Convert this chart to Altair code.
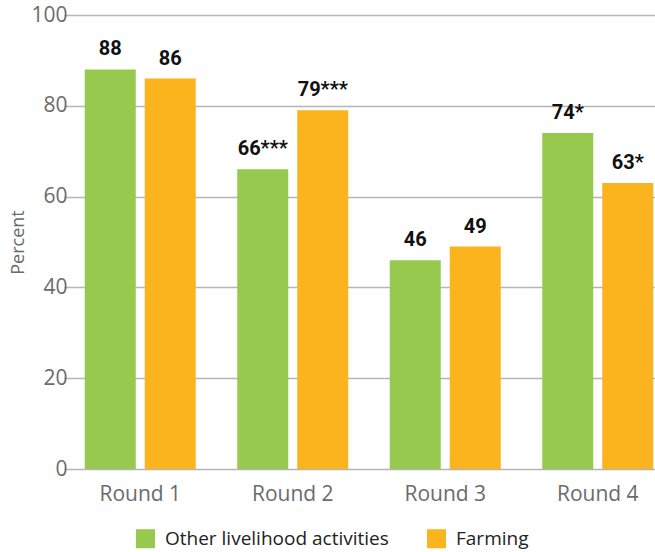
import altair as alt
import pandas as pd

rounds = ["Round 1", "Round 2", "Round 3", "Round 4"]
series = ["Other livelihood activities", "Farming"]
other_vals = [88, 66, 46, 74]
farming_vals = [86, 79, 49, 63]
other_labels = ["88", "66***", "46", "74*"]
farming_labels = ["86", "79***", "49", "63*"]
colors = ["#97C94E", "#FBB41E"]

rows = []
for r, v, l in zip(rounds, other_vals, other_labels):
    rows.append({"round": r, "series": series[0], "value": v, "label": l})
for r, v, l in zip(rounds, farming_vals, farming_labels):
    rows.append({"round": r, "series": series[1], "value": v, "label": l})
df = pd.DataFrame(rows)

FONT = "Open Sans"

x = alt.X("round:N", sort=rounds,
          scale=alt.Scale(range=[-10, 600], paddingInner=0, paddingOuter=0),
          axis=alt.Axis(title=None, labelAngle=0, labelFontSize=21, labelColor="#6b6b6b",
                        labelFont=FONT, domain=False, ticks=False, labelPadding=14, grid=False))
xo = alt.XOffset("series:N", sort=series,
                 scale=alt.Scale(paddingInner=0.15, paddingOuter=0.346))
y = alt.Y("value:Q", scale=alt.Scale(domain=[0, 100], nice=False),
          axis=alt.Axis(title="Percent", values=[0, 20, 40, 60, 80, 100], labelFontSize=21,
                        labelColor="#6b6b6b", labelFont=FONT, titleFont=FONT, titleFontSize=18,
                        titleFontWeight="normal", titleColor="#6b6b6b", ticks=False, domain=False,
                        labelPadding=7, titlePadding=3, gridColor="#b5b5b5", gridWidth=1.5))

color = alt.Color("series:N", sort=series, scale=alt.Scale(domain=series, range=colors),
                  legend=alt.Legend(title=None, orient="none", direction="horizontal",
                                    legendX=62, legendY=514, symbolType="square", symbolSize=361,
                                    symbolStrokeWidth=0, labelFontSize=19, labelFont=FONT,
                                    labelColor="#222222", columnPadding=38, labelOffset=10,
                                    labelLimit=400))

bars = alt.Chart(df).mark_bar().encode(x=x, xOffset=xo, y=y, color=color)
text = alt.Chart(df).mark_text(baseline="bottom", dy=-10, fontSize=20, fontWeight="bold",
                               font="'Roboto', sans-serif",
                               color="#111111").encode(
    x=x, xOffset=xo, y="value:Q", text="label:N")

chart = (bars + text).properties(
    width=581, height=454,
    autosize=alt.AutoSizeParams(type="none"),
    padding={"left": 74, "top": 15, "right": 0, "bottom": 83},
).configure_view(stroke=None)

chart.save("out.html", embed_options={"renderer": "svg", "actions": False})
